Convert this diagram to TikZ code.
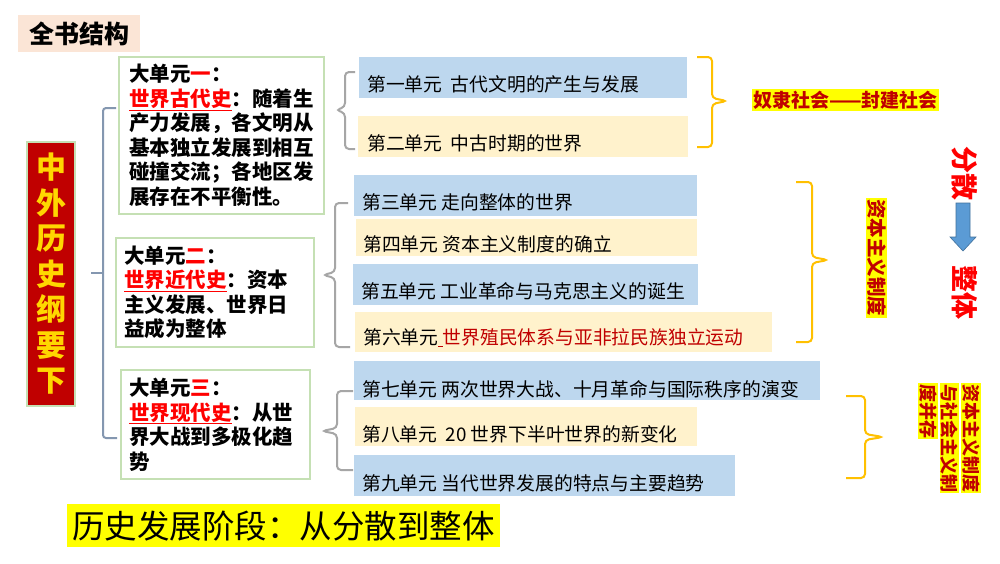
\documentclass[tikz,border=0pt]{standalone}
\usepackage{fontspec}
\setmainfont{Noto Sans CJK SC}
\definecolor{rowblue}{HTML}{BDD7EE}
\definecolor{rowyel}{HTML}{FFF2CC}
\definecolor{boxgreen}{HTML}{C5E0B4}
\definecolor{brgray}{HTML}{A6A6A6}
\definecolor{brblue}{HTML}{8497B0}
\definecolor{brorange}{HTML}{FFC000}
\definecolor{darkred}{HTML}{C00000}
\definecolor{titlebg}{HTML}{FBE5D6}
\definecolor{arrowblue}{HTML}{5B9BD5}
\definecolor{arrowedge}{HTML}{41719C}
\definecolor{goldtext}{HTML}{FFD700}
\definecolor{hired}{HTML}{FF0000}
\definecolor{hiyellow}{HTML}{FFFF00}
\begin{document}
\begin{tikzpicture}[x=1pt,y=-1pt,
  rowbg/.style={anchor=north west, inner sep=0pt, outer sep=0pt},
  rowtxt/.style={anchor=west, inner sep=0pt, font=\fontsize{18.8}{22}\selectfont, text=black},
  bigbox/.style={anchor=north west, draw=boxgreen, line width=2pt, fill=white, align=left, inner ysep=0pt, font=\fontsize{20.5}{24.5}\selectfont\bfseries},
  graybr/.style={draw=brgray, line width=2pt, rounded corners=4pt},
  bluebr/.style={draw=brblue, line width=2pt, rounded corners=3pt},
  orangebr/.style={draw=brorange, line width=2pt, rounded corners=4pt},
  hilabel/.style={fill=hiyellow, text=darkred, inner sep=1.5pt, font=\fontsize{18}{21}\selectfont\bfseries},
  bigred/.style={text=hired, inner sep=0pt, font=\fontsize{27}{30}\selectfont\bfseries, rotate=-90}
]
\useasboundingbox (0,0) rectangle (1000,563);
\fill[white] (0,0) rectangle (1000,563);

% title
\node[anchor=north west, fill=titlebg, minimum width=122pt, minimum height=37pt, inner sep=0pt,
      font=\fontsize{25}{28}\selectfont\bfseries] (title) at (18,15) {全书结构};

% main red box
\node[anchor=north west, fill=darkred, draw=boxgreen, line width=2pt, minimum width=48pt,
      minimum height=264pt, inner sep=0pt, align=center, text=goldtext,
      font=\fontsize{30}{35.5}\selectfont\bfseries] (main) at (26,141)
      {中\\外\\历\\史\\纲\\要\\下};

% left bracket
\draw[bluebr] (116,108) -- (103,108) -- (103,438) -- (117,438);
\draw[bluebr] (91,273) -- (103,273);

% big unit boxes
\node[bigbox, text width=185pt, inner xsep=10pt, minimum height=157pt] (b1) at (118,56)
 {大单元\textcolor{hired}{一}：\\
  \textcolor{hired}{\underline{世界古代史}}：随着生\\
  产力发展，各文明从\\
  基本独立发展到相互\\
  碰撞交流；各地区发\\
  展存在不平衡性。};
\node[bigbox, text width=182pt, inner xsep=8pt, minimum height=109pt] (b2) at (115,237)
 {大单元\textcolor{hired}{二}：\\
  \textcolor{hired}{\underline{世界近代史}}：资本\\
  主义发展、世界日\\
  益成为整体};
\node[bigbox, text width=173pt, inner xsep=8pt, minimum height=109pt] (b3) at (120,369)
 {大单元\textcolor{hired}{三}：\\
  \textcolor{hired}{\underline{世界现代史}}：从世\\
  界大战到多极化趋\\
  势};

% gray brackets
\draw[graybr] (355,72) -- (345,72) -- (345,107) -- (336,110) -- (345,113) -- (345,149) -- (355,149);
\draw[graybr] (348,203) -- (335,203) -- (335,272) -- (323,275) -- (335,278) -- (335,347) -- (350,347);
\draw[graybr] (353,391) -- (337,391) -- (337,428) -- (322,431) -- (337,434) -- (337,470) -- (353,470);

% unit rows
\node[rowbg, fill=rowblue, minimum width=328pt, minimum height=41pt] (u1bg) at (359,57) {};
\node[rowtxt] (u1) at (367,84) {第一单元~~古代文明的产生与发展};
\node[rowbg, fill=rowyel, minimum width=330pt, minimum height=41pt] (u2bg) at (358,116) {};
\node[rowtxt] (u2) at (367,143) {第二单元~~中古时期的世界};
\node[rowbg, fill=rowblue, minimum width=343pt, minimum height=41pt] (u3bg) at (354,175) {};
\node[rowtxt] (u3) at (362,202) {第三单元 走向整体的世界};
\node[rowbg, fill=rowyel, minimum width=341pt, minimum height=37pt] (u4bg) at (356,219) {};
\node[rowtxt] (u4) at (363,244) {第四单元 资本主义制度的确立};
\node[rowbg, fill=rowblue, minimum width=345pt, minimum height=41pt] (u5bg) at (353,264) {};
\node[rowtxt] (u5) at (361,291) {第五单元 工业革命与马克思主义的诞生};
\node[rowbg, fill=rowyel, minimum width=417pt, minimum height=40pt] (u6bg) at (355,312) {};
\node[rowtxt] (u6) at (363,338) {第六单元\textcolor{darkred}{\underline{\ }世界殖民体系与亚非拉民族独立运动}};
\node[rowbg, fill=rowblue, minimum width=466pt, minimum height=39pt] (u7bg) at (354,361) {};
\node[rowtxt] (u7) at (362,389) {第七单元 两次世界大战、十月革命与国际秩序的演变};
\node[rowbg, fill=rowyel, minimum width=342pt, minimum height=39pt] (u8bg) at (355,407) {};
\node[rowtxt] (u8) at (362,434) {第八单元~~20 世界下半叶世界的新变化};
\node[rowbg, fill=rowblue, minimum width=381pt, minimum height=41pt] (u9bg) at (354,455) {};
\node[rowtxt] (u9) at (362,483) {第九单元 当代世界发展的特点与主要趋势};

% orange brackets
\draw[orangebr] (697,57) -- (712,57) -- (712,98) -- (727,101) -- (712,104) -- (712,147) -- (697,147);
\draw[orangebr] (796,182) -- (812,182) -- (812,257) -- (828,260) -- (812,263) -- (812,342) -- (796,342);
\draw[orangebr] (846,396) -- (865,396) -- (865,434) -- (883,437) -- (865,440) -- (865,478) -- (846,478);

% labels
\node[hilabel, inner xsep=1pt, font=\fontsize{19}{22}\selectfont\bfseries] (l1) at (845.5,100) {奴隶社会——封建社会};
\node[hilabel, rotate=-90, font=\fontsize{19.5}{22}\selectfont\bfseries] (l2) at (876.5,257.5) {资本主义制度};
\node[hilabel, rotate=-90, anchor=west, inner sep=1pt] (l3a) at (971,383) {资本主义制度};
\node[hilabel, rotate=-90, anchor=west, inner sep=1pt] (l3b) at (949.5,383) {与社会主义制};
\node[hilabel, rotate=-90, anchor=west, inner sep=1pt] (l3c) at (928,383) {度并存};

% scatter -> whole
\node[bigred] (fs) at (965,173) {分散};
\node[bigred] (zt) at (965,292) {整体};
\filldraw[fill=arrowblue, draw=arrowedge, line width=0.6pt]
  (956,203) -- (970,203) -- (970,237) -- (976,237) -- (963,251) -- (950,237) -- (956,237) -- cycle;

% bottom banner
\node[anchor=north west, fill=hiyellow, minimum width=433pt, minimum height=43pt, inner sep=0pt,
      font=\fontsize{32.5}{36}\selectfont] (banner) at (67,504) {历史发展阶段：从分散到整体};
\end{tikzpicture}
\end{document}
